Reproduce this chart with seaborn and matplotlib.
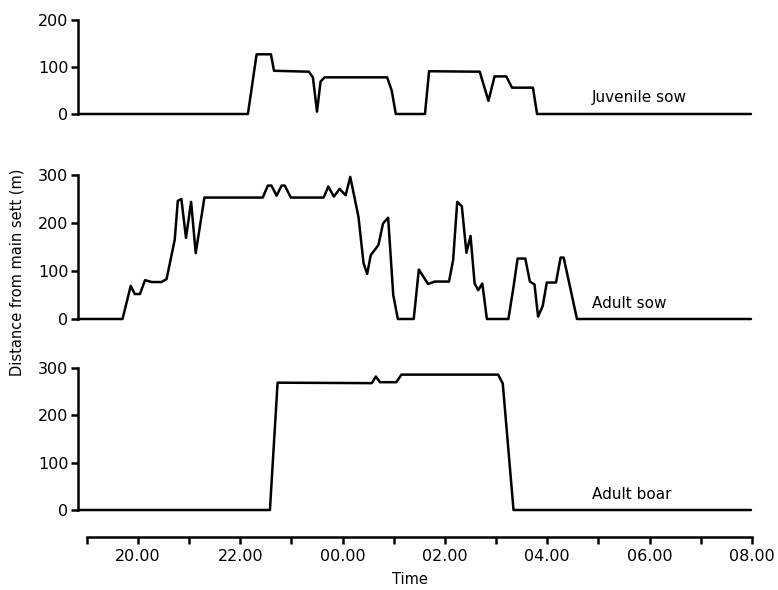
# Badger tracking: distance from main sett through the night, three animals

import pandas as pd
import seaborn as sns
import matplotlib.pyplot as plt
from matplotlib.ticker import FixedLocator, FuncFormatter

# time in hours after midnight of day 1 (24 = 00.00, 32 = 08.00)
juv_time = [18.83, 22.15, 22.32, 22.60, 22.66, 23.34, 23.42, 23.50, 23.57, 23.65,
            24.87, 24.96, 25.04, 25.61, 25.69, 26.68, 26.85, 26.97, 27.20, 27.31,
            27.72, 27.80, 31.98]
juv_dist = [0, 0, 127, 127, 92, 90, 78, 5, 69, 78,
            78, 50, 0, 0, 91, 90, 28, 80, 80, 56,
            56, 0, 0]

sow_time = [18.83, 19.70, 19.86, 19.94, 20.04, 20.14, 20.27, 20.46, 20.56, 20.72,
            20.78, 20.85, 20.94, 21.04, 21.13, 21.30, 22.44, 22.54, 22.61, 22.71,
            22.81, 22.87, 22.99, 23.63, 23.72, 23.83, 23.94, 24.06, 24.15, 24.31,
            24.41, 24.48, 24.55, 24.70, 24.79, 24.89, 24.99, 25.08, 25.39, 25.49,
            25.67, 25.80, 26.08, 26.16, 26.24, 26.33, 26.42, 26.50, 26.58, 26.65,
            26.73, 26.82, 27.24, 27.34, 27.42, 27.57, 27.66, 27.75, 27.82, 27.91,
            27.99, 28.17, 28.26, 28.32, 28.58, 31.98]
sow_dist = [0, 0, 69, 52, 52, 81, 77, 77, 83, 165,
            246, 250, 169, 244, 137, 253, 253, 278, 278, 257,
            278, 278, 253, 253, 276, 255, 271, 258, 296, 213,
            116, 94, 133, 154, 199, 211, 50, 0, 0, 103,
            73, 78, 78, 123, 244, 235, 138, 173, 74, 60,
            74, 0, 0, 67, 126, 126, 78, 72, 5, 27,
            76, 76, 128, 128, 0, 0]

boar_time = [18.83, 22.58, 22.73, 24.57, 24.65, 24.73, 25.05, 25.15, 27.04, 27.13,
             27.34, 31.98]
boar_dist = [0, 0, 269, 268, 282, 270, 270, 286, 286, 267,
             0, 0]

panels = [
    ("Juvenile sow", juv_time, juv_dist, [0, 100, 200], 36),
    ("Adult sow", sow_time, sow_dist, [0, 100, 200, 300], 33),
    ("Adult boar", boar_time, boar_dist, [0, 100, 200, 300], 32),
]

sns.set_theme(style="ticks")
plt.rcParams['font.family'] = ['DejaVu Sans']
plt.rcParams['text.color'] = 'black'

fig = plt.figure(figsize=(7.78, 5.90), dpi=100)

# pixel rows of each panel (top tick, zero line)
rows = [(20, 114), (175, 319), (368, 510)]
left, width = 78 / 778, 674 / 778

axes = []
for (name, t, d, yt, ylab), (top, bot) in zip(panels, rows):
    ax = fig.add_axes([left, 1 - bot / 590, width, (bot - top) / 590])
    df = pd.DataFrame({"time": t, "dist": d})
    sns.lineplot(data=df, x="time", y="dist", color="black", linewidth=1.8,
                 estimator=None, clip_on=False, ax=ax)
    ax.set_xlim(18.83, 32.0)
    ax.set_ylim(0, yt[-1])
    ax.set_yticks(yt)
    ax.set_xlabel("")
    ax.set_ylabel("")
    ax.tick_params(axis="y", length=5, width=1.8, pad=2, labelsize=11.5,
                   color="black", labelcolor="black")
    ax.spines["left"].set_linewidth(1.8)
    ax.spines["left"].set_color("black")
    ax.text(28.87, ylab, name, fontsize=11, va="center", ha="left", color="black")
    axes.append(ax)

for ax in axes[:2]:
    sns.despine(ax=ax, bottom=True)
    ax.set_xticks([])

ax3 = axes[2]
sns.despine(ax=ax3, offset={"bottom": 19.4})
ax3.spines["bottom"].set_bounds(19, 32)
ax3.spines["bottom"].set_linewidth(1.8)
ax3.spines["bottom"].set_color("black")
ax3.xaxis.set_major_locator(FixedLocator(range(20, 33, 2)))
ax3.xaxis.set_minor_locator(FixedLocator(range(19, 32, 2)))
ax3.xaxis.set_major_formatter(FuncFormatter(lambda h, _: f"{int(round(h)) % 24:02d}.00"))
ax3.tick_params(axis="x", which="both", length=5, width=1.8, pad=4,
                color="black", labelcolor="black")
ax3.tick_params(axis="x", which="major", labelsize=11.5)

fig.text(17 / 778, 1 - 272 / 590, "Distance from main sett (m)", rotation=90,
         ha="center", va="center", fontsize=10.5, color="black")
fig.text(410 / 778, 1 - 580 / 590, "Time", ha="center", va="center",
         fontsize=10.5, color="black")

fig.savefig("out.png", dpi=100)
